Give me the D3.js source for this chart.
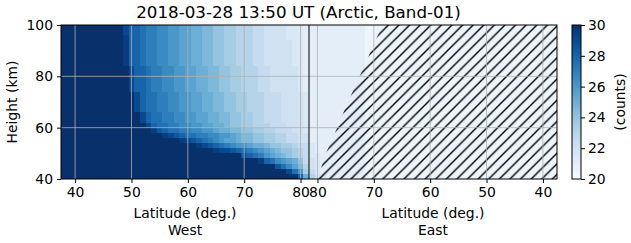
<!DOCTYPE html>
<html>
<head>
<meta charset="utf-8">
<script src="https://cdn.jsdelivr.net/npm/d3@7"></script>
<style>
body { margin: 0; background: #fff; }
svg { display: block; font-family: "DejaVu Sans", sans-serif; }
</style>
</head>
<body>
<svg id="chart" width="631" height="243"></svg>
<script>
// Chart text
const title = '2018-03-28 13:50 UT (Arctic, Band-01)';
const yTicks = [40, 60, 80, 100];
const latTicks = [40, 50, 60, 70, 80];
const cbarTicks = [20, 22, 24, 26, 28, 30];

// Grid: latitude columns (1 deg) and height rows (2 km, top to bottom)
const latCols = d3.range(38, 82);          // 38 .. 81
const rowTops = d3.range(100, 40, -2);     // 100 .. 42

// Value codes: a = 20, b = 20.5, ... u = 30 (counts)
const codes = 'abcdefghijklmnopqrstu';

// West half: last saturated latitude per row, then the codes beyond it up to 81
const westEdge = [48, 48, 48, 48, 48, 48, 48, 48, 49, 49, 49, 49, 49, 50, 50, 50, 50,
                  51, 51, 52, 53, 55, 58, 61, 64, 69, 72, 75, 77, 79];
const westTail = [
  'sqqpoonnmmllkkjjiihhgggffeeeedddc',
  'sqqpoonnmmllkkjjiihhgggffeeeedddc',
  'tqqpoonnmmllkkjjiihhgggffeeeedddc',
  'tqqpoonnmmllkkjjiihhgggffeeeeeddc',
  'tqqpoonnmmllkkjjiihhgggffeeeeeddc',
  'tqqpoonnmmllkkjjiihhgggffeeeeeddc',
  'tqqpoonnmmllkkjjiihhgggffeeeeeddc',
  'tqqpoonnmmllkkjjiihhgggffeeeeeddc',
  'sqqpoonnmmllkkjjiihhgggffeeeeedc',
  'sqqpoonnmmllkkjjiihhgggffeeeeedc',
  'sqqpoonnmmllkkjjiihhgggffeeeeedc',
  'sqqpoonnmmllkkjjiihhgggffeeeeedc',
  'sqqpoonnmmllkkjjiihhgggffeeeeedc',
  'sqppoonnmmllkkjjiihhgggfffeeeed',
  'sqppoonnmmllkkjjiihhgggfffeeeed',
  'sqppoonnmmllkkjjiihhgggfffeeeed',
  'sqppoonnmmllkkjjiihhgggfffeeeed',
  'sqppoonnmmllkkjjiihhggfffeeeed',
  'sqppoonnmmllkkjjiihhggfffeeeed',
  'sqppoonnmmllkkjiihhgggfffeeed',
  'trqppoonnmmlkkjjiihhggfffeed',
  'tsrqppoonnmmlkjjiihhggffee',
  'tsrqponmllkjjiihhggffee',
  'tsrqponmmlkkjiihhgff',
  'tssrqponmlkjiihgf',
  'rqpomlkjihgf',
  'tqpnmlkif',
  'rpnljg',
  'spmh',
  'qk'
];

// East half: codes from latitude 81 down to 38
const eastRows = [
  'ccccccccccbbbbbbbbbbbbbbbbbbbbbbbbbbbbbbbbbb',
  'ccccccccccbbbbbbbbbbbbbbbbbbbbbbbbbbbbbbbbbb',
  'ccccccccccbbbbbbbbbbbbbbbbbbbbbbbbbbbbbbbbbb',
  'ccccccccccbbbbbbbbbbbbbbbbbbbbbbbbbbbbbbbbbb',
  'ccccccccccbbbbbbbbbbbbbbbbbbbbbbbbbbbbbbbbbb',
  'ccccccccccbbbbbbbbbbbbbbbbbbbbbbbbbbbbbbbbbb',
  'ccccccccccbbbbbbbbbbbbbbbbbbbbbbbbbbbbbbbbbb',
  'ccccccccccbbbbbbbbbbbbbbbbbbbbbbbbbbbbbbbbbb',
  'ccccccccccbbbbbbbbbbbbbbbbbbbbbbbbbbbbbbbbbb',
  'ccccccccccbbbbbbbbbbbbbbbbbbbbbbbbbbbbbbbbbb',
  'ccccccccccbbbbbbbbbbbbbbbbbbbbbbbbbbbbbbbbbb',
  'ccccccccccbbbbbbbbbbbbbbbbbbbbbbbbbbbbbbbbbb',
  'ccccccccccbbbbbbbbbbbbbbbbbbbbbbbbbbbbbbbbbb',
  'ccccccccccbbbbbbbbbbbbbbbbbbbbbbbbbbbbbbbbbb',
  'ccccccccccbbbbbbbbbbbbbbbbbbbbbbbbbbbbbbbbbb',
  'ccccccccccbbbbbbbbbbbbbbbbbbbbbbbbbbbbbbbbbb',
  'ccccccccccbbbbbbbbbbbbbbbbbbbbbbbbbbbbbbbbbb',
  'ccccccccccbbbbbbbbbbbbbbbbbbbbbbbbbbbbbbbbbb',
  'ccccccccccbbbbbbbbbbbbbbbbbbbbbbbbbbbbbbbbbb',
  'ccccccccccbbbbbbbbbbbbbbbbbbbbbbbbbbbbbbbbbb',
  'ccccccccccbbbbbbbbbbbbbbbbbbbbbbbbbbbbbbbbbb',
  'ccccccccccbbbbbbbbbbbbbbbbbbbbbbbbbbbbbbbbbb',
  'ccccccccccbbbbbbbbbbbbbbbbbbbbbbbbbbbbbbbbbb',
  'dcccccccccbbbbbbbbbbbbbbbbbbbbbbbbbbbbbbbbbb',
  'dcccccccccbbbbbbbbbbbbbbbbbbbbbbbbbbbbbbbbbb',
  'ddccccccccbbbbbbbbbbbbbbbbbbbbbbbbbbbbbbbbbb',
  'edccccccccbbbbbbbbbbbbbbbbbbbbbbbbbbbbbbbbbb',
  'edccccccccbbbbbbbbbbbbbbbbbbbbbbbbbbbbbbbbbb',
  'fdccccccccbbbbbbbbbbbbbbbbbbbbbbbbbbbbbbbbbb',
  'gedcccccccbbbbbbbbbbbbbbbbbbbbbbbbbbbbbbbbbb'
];

// Hatched (no data) region on the east side: its left boundary
const hatchHeights = [40, 50, 60, 70, 80, 90, 100];
const hatchLats = [80, 78.5, 76.5, 74.6, 72.5, 70.5, 68.5];

// Blues colour map (ColorBrewer nodes, linear like matplotlib)
const bluesNodes = ['#f7fbff', '#deebf7', '#c6dbef', '#9ecae1', '#6baed6',
                    '#4292c6', '#2171b5', '#08519c', '#08306b'];

// Layout
const svg = d3.select('#chart');
const plot = { left: 61, right: 557, top: 25, bottom: 179 };
const mid = 309;
const fs = 13.9;

const xW = d3.scaleLinear().domain([37.5, 81.5]).range([plot.left, mid]);
const xE = d3.scaleLinear().domain([81.5, 37.5]).range([mid, plot.right]);
const y = d3.scaleLinear().domain([40, 100]).range([plot.bottom, plot.top]);
const blues = d3.scaleLinear()
  .domain(d3.range(bluesNodes.length).map(i => i / (bluesNodes.length - 1)))
  .range(bluesNodes)
  .interpolate(d3.interpolateRgb)
  .clamp(true);
const color = v => blues((v - 20) / 10);
const decode = ch => 20 + codes.indexOf(ch) * 0.5;

// Build cells
const cells = [];
rowTops.forEach((top, i) => {
  latCols.forEach(lat => {
    const v = lat <= westEdge[i] ? 30 : decode(westTail[i][lat - westEdge[i] - 1]);
    cells.push({ x0: xW(lat - 0.5), x1: xW(lat + 0.5), top, v });
  });
  latCols.slice().reverse().forEach((lat, j) => {
    const ch = eastRows[i][j];
    if (ch) cells.push({ x0: xE(lat + 0.5), x1: xE(lat - 0.5), top, v: decode(ch) });
  });
});

const defs = svg.append('defs');
defs.append('clipPath').attr('id', 'clip')
  .append('rect')
  .attr('x', plot.left).attr('y', plot.top)
  .attr('width', plot.right - plot.left).attr('height', plot.bottom - plot.top);

const p = 10.6;
defs.append('pattern')
  .attr('id', 'hatch')
  .attr('patternUnits', 'userSpaceOnUse')
  .attr('width', p).attr('height', p)
  .append('path')
  .attr('d', `M0,${p} L${p},0 M-1,1 L1,-1 M${p - 1},${p + 1} L${p + 1},${p - 1}`)
  .attr('stroke', '#000')
  .attr('stroke-width', 1.4);

const g = svg.append('g').attr('clip-path', 'url(#clip)');

g.append('g').selectAll('rect')
  .data(cells)
  .join('rect')
  .attr('x', d => d.x0)
  .attr('y', d => y(d.top))
  .attr('width', d => d.x1 - d.x0)
  .attr('height', d => y(d.top - 2) - y(d.top))
  .attr('fill', d => color(d.v))
  .attr('shape-rendering', 'crispEdges');

// Hatch polygon
const hatchPts = hatchHeights.map((h, i) => [xE(hatchLats[i]), y(h)]);
hatchPts.push([plot.right + 2, y(100)], [plot.right + 2, y(40)]);
g.append('path')
  .attr('d', d3.line()(hatchPts) + 'Z')
  .attr('fill', 'url(#hatch)');

// Grid lines
const gridX = latTicks.map(v => xW(v)).concat(latTicks.map(v => xE(v)));
g.append('g').selectAll('line.vx')
  .data(gridX)
  .join('line')
  .attr('x1', d => d).attr('x2', d => d)
  .attr('y1', plot.top).attr('y2', plot.bottom)
  .attr('stroke', '#b0b0b0').attr('stroke-width', 0.8);
g.append('g').selectAll('line.hy')
  .data([60, 80])
  .join('line')
  .attr('x1', plot.left).attr('x2', plot.right)
  .attr('y1', d => y(d)).attr('y2', d => y(d))
  .attr('stroke', '#b0b0b0').attr('stroke-width', 0.8);

// Pole divider
svg.append('line')
  .attr('x1', mid).attr('x2', mid)
  .attr('y1', plot.top).attr('y2', plot.bottom)
  .attr('stroke', '#000').attr('stroke-width', 1);

// Frame
svg.append('rect')
  .attr('x', plot.left).attr('y', plot.top)
  .attr('width', plot.right - plot.left).attr('height', plot.bottom - plot.top)
  .attr('fill', 'none').attr('stroke', '#000').attr('stroke-width', 1);

// Axes
function styleAxis(sel) {
  sel.select('.domain').remove();
  sel.selectAll('text').attr('font-size', fs).attr('fill', '#000')
    .attr('font-family', '"DejaVu Sans", sans-serif');
  sel.selectAll('line').attr('stroke', '#000');
}

svg.append('g')
  .attr('transform', `translate(${plot.left},0)`)
  .call(d3.axisLeft(y).tickValues(yTicks).tickSize(4).tickPadding(4))
  .call(styleAxis);

svg.append('g')
  .attr('transform', `translate(0,${plot.bottom})`)
  .call(d3.axisBottom(xW).tickValues(latTicks).tickSize(4).tickPadding(4))
  .call(styleAxis);

svg.append('g')
  .attr('transform', `translate(0,${plot.bottom})`)
  .call(d3.axisBottom(xE).tickValues(latTicks).tickSize(4).tickPadding(4))
  .call(styleAxis);

// Axis labels
const label = (x, yy, text, rot) => {
  const t = svg.append('text')
    .attr('text-anchor', 'middle')
    .attr('font-size', fs)
    .attr('fill', '#000')
    .text(text);
  if (rot) t.attr('transform', `translate(${x},${yy}) rotate(-90)`);
  else t.attr('x', x).attr('y', yy);
  return t;
};
label((plot.left + mid) / 2, 218, 'Latitude (deg.)');
label((plot.left + mid) / 2, 235, 'West');
label((mid + plot.right) / 2, 218, 'Latitude (deg.)');
label((mid + plot.right) / 2, 235, 'East');
label(17, (plot.top + plot.bottom) / 2, 'Height (km)', true);

// Title
svg.append('text')
  .attr('x', 298.5).attr('y', 18)
  .attr('text-anchor', 'middle')
  .attr('font-size', 16.7)
  .attr('fill', '#000')
  .text(title);

// Colorbar
const cb = { left: 572, width: 9 };
const cScale = d3.scaleLinear().domain([20, 30]).range([plot.bottom, plot.top]);
const grad = defs.append('linearGradient')
  .attr('id', 'cbar')
  .attr('x1', 0).attr('y1', 1).attr('x2', 0).attr('y2', 0);
grad.selectAll('stop')
  .data(bluesNodes)
  .join('stop')
  .attr('offset', (d, i) => i / (bluesNodes.length - 1))
  .attr('stop-color', d => d);
svg.append('rect')
  .attr('x', cb.left).attr('y', plot.top)
  .attr('width', cb.width).attr('height', plot.bottom - plot.top)
  .attr('fill', 'url(#cbar)')
  .attr('stroke', '#000').attr('stroke-width', 1);
svg.append('g')
  .attr('transform', `translate(${cb.left + cb.width},0)`)
  .call(d3.axisRight(cScale).tickValues(cbarTicks).tickSize(4).tickPadding(3))
  .call(styleAxis);
label(625, (plot.top + plot.bottom) / 2, '(counts)', true);
</script>
</body>
</html>
